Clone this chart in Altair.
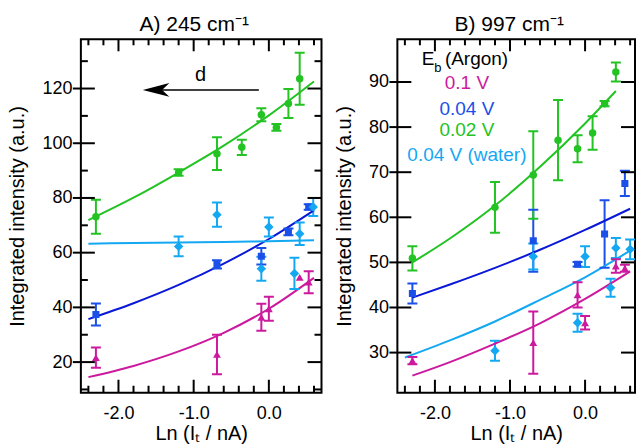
import altair as alt
import pandas as pd

FONT = "Liberation Sans"

# ---------------- data: panel A (245 cm-1) ----------------
A_mag_x = [-2.30, -0.69, -0.10, 0.00, 0.41, 0.53]
A_mag_y = [21.6, 22.8, 36.4, 39.5, 51.0, 49.2]
A_mag_e = [3.7, 7.2, 4.9, 4.4, 0.0, 4.0]

A_blue_x = [-2.30, -0.69, -0.10, 0.26, 0.53]
A_blue_y = [37.4, 55.7, 58.7, 67.6, 76.7]
A_blue_e = [4.0, 1.5, 3.0, 1.2, 1.0]

A_green_x = [-2.30, -1.20, -0.69, -0.36, -0.10, 0.10, 0.26, 0.41]
A_green_y = [73.1, 89.3, 96.2, 98.5, 110.4, 105.8, 114.5, 123.6]
A_green_e = [6.2, 1.2, 6.0, 2.8, 2.4, 1.2, 5.3, 9.5]

A_cyan_x = [-1.20, -0.69, -0.10, 0.00, 0.34, 0.41, 0.59]
A_cyan_y = [62.3, 73.9, 54.1, 69.4, 52.4, 66.9, 76.7]
A_cyan_e = [3.6, 4.4, 4.4, 3.5, 5.7, 4.1, 3.3]

A_fit_x = [-2.4, -1.8, -1.2, -0.6, 0.0, 0.6]
A_fit_mag = [14.5, 18.6, 23.9, 30.7, 39.5, 50.8]
A_fit_blue = [35.7, 41.5, 48.2, 56.0, 65.0, 75.5]
A_fit_green = [71.9, 80.1, 89.3, 99.1, 110.2, 122.6]
A_fit_cyan = [63.3, 63.5, 63.7, 63.9, 64.2, 64.5]

# ---------------- data: panel B (997 cm-1) ----------------
B_mag_x = [-2.30, -0.69, -0.10, 0.00, 0.41, 0.53]
B_mag_y = [28.2, 32.2, 42.8, 36.6, 49.2, 48.7]
B_mag_e = [0.8, 6.9, 2.8, 1.5, 1.5, 0.8]

B_blue_x = [-2.30, -0.69, -0.10, 0.26, 0.53]
B_blue_y = [43.1, 54.8, 49.6, 56.3, 67.5]
B_blue_e = [2.2, 6.9, 0.5, 7.5, 2.8]

B_green_x = [-2.30, -1.20, -0.69, -0.36, -0.10, 0.10, 0.26, 0.41]
B_green_y = [50.9, 62.2, 69.4, 77.1, 75.2, 78.7, 85.2, 92.2]
B_green_e = [2.7, 5.6, 9.7, 8.9, 3.0, 3.7, 0.6, 2.1]

B_cyan_x = [-1.20, -0.69, -0.10, 0.00, 0.34, 0.41, 0.60]
B_cyan_y = [30.4, 51.3, 36.6, 51.3, 44.4, 53.2, 52.9]
B_cyan_e = [2.2, 2.9, 2.0, 2.3, 2.0, 2.2, 2.2]

B_fit_mag_x = [-2.3, -1.8, -1.2, -0.6, 0.0, 0.6]
B_fit_mag = [24.9, 27.9, 32.0, 36.5, 41.9, 48.0]
B_fit_blue_x = [-2.3, -1.8, -1.2, -0.6, 0.0, 0.6]
B_fit_blue = [42.2, 45.1, 48.8, 52.8, 57.2, 61.9]
B_fit_green_x = [-2.3, -1.8, -1.2, -0.6, 0.0, 0.41]
B_fit_green = [50.0, 55.3, 62.6, 71.2, 80.8, 88.0]
B_fit_cyan_x = [-2.4, -1.8, -1.2, -0.6, 0.0, 0.6]
B_fit_cyan = [28.9, 32.7, 36.9, 41.7, 46.7, 52.6]

# tick values
X_MAJOR = [-2.0, -1.0, 0.0]
X_MINOR = [-2.4, -2.2, -1.8, -1.6, -1.4, -1.2, -0.8, -0.6, -0.4, -0.2, 0.2, 0.4, 0.6]
A_Y_MAJOR = [20, 40, 60, 80, 100, 120]
A_Y_MINOR = [10, 30, 50, 70, 90, 110, 130]
B_Y_MAJOR = [30, 40, 50, 60, 70, 80, 90]

SERIES = ["0.1 V", "0.04 V", "0.02 V", "0.04 V (water)"]

# ---------------- styles ----------------
PCOL = {"0.1 V": "#CC1A9E", "0.04 V": "#1A50E8", "0.02 V": "#22C322", "0.04 V (water)": "#14A8F2"}
LCOL = {"0.1 V": "#CC1A9E", "0.04 V": "#0A18D8", "0.02 V": "#22C322", "0.04 V (water)": "#14A8F2"}
SHAPE = {"0.1 V": "triangle-up", "0.04 V": "square", "0.02 V": "circle", "0.04 V (water)": "diamond"}
SIZE = {"0.1 V": 62, "0.04 V": 50, "0.02 V": 56, "0.04 V (water)": 90}
H = 354
# tick lengths in pixels
TICK_X_BOTTOM = (13, 7)   # major, minor
TICK_X_TOP = (12, 6)
TICK_Y_LEFT_MAJOR = (14, 8)  # inside, outside
TICK_Y_MINOR = 7
TICK_Y_RIGHT_MAJOR = 14


def points_df(groups):
    rows = []
    for name, xs, ys, es in groups:
        for x, y, e in zip(xs, ys, es):
            rows.append({"x": x, "y": y, "e": e, "s": name, "pc": PCOL[name],
                         "shape": SHAPE[name], "size": SIZE[name]})
    return pd.DataFrame(rows)


def fit_df(groups):
    rows = []
    for name, xs, ys in groups:
        for x, y in zip(xs, ys):
            rows.append({"x": x, "y": y, "s": name, "lc": LCOL[name]})
    return pd.DataFrame(rows)


AX = dict(labelFont=FONT, labelFontSize=18, labelColor="black",
          titleFont=FONT, titleFontSize=20, titleFontWeight="normal", titleColor="black",
          ticks=False, domain=False, grid=False)

XLAB = "datum.value < 0 ? '-' + format(-datum.value, '.1f') : format(datum.value, '.1f')"


def panel(pts, fits, xdom, ydom, ymaj, ymin, xmaj, xmin, title, width, extra):
    xs = alt.Scale(domain=xdom, nice=False, zero=False)
    ys = alt.Scale(domain=ydom, nice=False, zero=False)

    ax_x = alt.Axis(orient="bottom", values=xmaj, labelPadding=12, labelExpr=XLAB,
                    title="Ln (Iₜ / nA)", titlePadding=1, **AX)
    ax_y = alt.Axis(orient="left", values=ymaj, labelPadding=9,
                    title="Integrated intensity (a.u.)", titlePadding=14, **AX)

    def X(field):
        return alt.X(field, scale=xs, axis=ax_x)

    def Y(field):
        return alt.Y(field, scale=ys, axis=ax_y)

    ppx = width / (xdom[1] - xdom[0])
    ppy = H / (ydom[1] - ydom[0])
    x0, x1 = xdom
    y0, y1 = ydom

    # axis ticks drawn as tick marks centred on their span (tick values from the lists above)
    def xt(vals, a, length):
        df = pd.DataFrame({"v": vals, "a": [a] * len(vals), "c": ["black"] * len(vals)})
        return alt.Chart(df).mark_tick(orient="vertical", size=length, thickness=2, opacity=1).encode(
            x=X("v:Q"), y=Y("a:Q"), color=alt.Color("c:N", scale=None))

    def yt(vals, a, length):
        df = pd.DataFrame({"v": vals, "a": [a] * len(vals), "c": ["black"] * len(vals)})
        return alt.Chart(df).mark_tick(orient="horizontal", size=length, thickness=2, opacity=1).encode(
            y=Y("v:Q"), x=X("a:Q"), color=alt.Color("c:N", scale=None))

    lm_in, lm_out = TICK_Y_LEFT_MAJOR
    ticks = [
        xt(xmaj, y0 + TICK_X_BOTTOM[0] / 2 / ppy, TICK_X_BOTTOM[0]),
        xt(xmin, y0 + TICK_X_BOTTOM[1] / 2 / ppy, TICK_X_BOTTOM[1]),
        xt(xmaj, y1 - TICK_X_TOP[0] / 2 / ppy, TICK_X_TOP[0]),
        xt(xmin, y1 - TICK_X_TOP[1] / 2 / ppy, TICK_X_TOP[1]),
        yt(ymaj, x0 + (lm_in - lm_out) / 2 / ppx, lm_in + lm_out),
        yt(ymaj, x1 - TICK_Y_RIGHT_MAJOR / 2 / ppx, TICK_Y_RIGHT_MAJOR),
    ]
    if ymin:
        ticks += [yt(ymin, x0 + TICK_Y_MINOR / 2 / ppx, TICK_Y_MINOR),
                  yt(ymin, x1 - TICK_Y_MINOR / 2 / ppx, TICK_Y_MINOR)]

    base = alt.Chart(pts).transform_filter("datum.e > 0").transform_calculate(
        lo="datum.y - datum.e", hi="datum.y + datum.e")

    lines = alt.Chart(fits).mark_line(strokeWidth=2, interpolate="monotone", clip=True).encode(
        x=X("x:Q"), y=Y("y:Q"), color=alt.Color("lc:N", scale=None), detail="s:N")
    bars = base.mark_rule(strokeWidth=2, clip=True).encode(
        x=X("x:Q"), y=Y("lo:Q"), y2="hi:Q", color=alt.Color("pc:N", scale=None))
    caps_lo = base.mark_tick(orient="horizontal", size=10, thickness=2, opacity=1, clip=True).encode(
        x=X("x:Q"), y=Y("lo:Q"), color=alt.Color("pc:N", scale=None))
    caps_hi = base.mark_tick(orient="horizontal", size=10, thickness=2, opacity=1, clip=True).encode(
        x=X("x:Q"), y=Y("hi:Q"), color=alt.Color("pc:N", scale=None))
    pts_layer = alt.Chart(pts).mark_point(filled=True, opacity=1, clip=True).encode(
        x=X("x:Q"), y=Y("y:Q"),
        color=alt.Color("pc:N", scale=None),
        shape=alt.Shape("shape:N", scale=None),
        size=alt.Size("size:Q", scale=None),
    )
    layers = [bars, lines, caps_lo, caps_hi, pts_layer] + ticks + [e(X, Y) for e in extra]
    return alt.layer(*layers).properties(
        width=width, height=H,
        title=alt.TitleParams(text=title, font=FONT, fontSize=21, fontWeight="normal",
                              color="black", offset=4, dx=-7),
    )


# annotations
ARROW_X = [-1.52, -0.133]
ARROW_Y = [119.5]
HEAD_X = [-1.50]
D_X, D_Y = [-0.91], [125.0]

LEG_TEXT = ["0.1 V", "0.04 V", "0.02 V", "0.04 V (water)"]
LEG_Y = [89.8, 84.1, 79.3, 73.8]
LEG_X = -1.574


def arrow_layer(X, Y):
    df = pd.DataFrame({"x1": [ARROW_X[0]], "x2": [ARROW_X[1]], "y": ARROW_Y})
    return alt.Chart(df).mark_rule(color="black", strokeWidth=1.5).encode(
        x=X("x1:Q"), x2="x2:Q", y=Y("y:Q"))


def head_layer(X, Y):
    df = pd.DataFrame({"x": HEAD_X, "y": ARROW_Y})
    return alt.Chart(df).mark_point(shape="M -1 0 L 1 -0.52 L 0.45 0 L 1 0.52 Z", size=711,
                                    filled=True, opacity=1, color="black").encode(
        x=X("x:Q"), y=Y("y:Q"))


def d_layer(X, Y):
    df = pd.DataFrame({"x": D_X, "y": D_Y, "t": ["d"]})
    return alt.Chart(df).mark_text(font=FONT, fontSize=20, color="black", baseline="middle").encode(
        x=X("x:Q"), y=Y("y:Q"), text="t:N")


def legend_layer(X, Y):
    df = pd.DataFrame({"x": [LEG_X] * 4, "y": LEG_Y, "t": LEG_TEXT, "c": [PCOL[s] for s in LEG_TEXT]})
    return alt.Chart(df).mark_text(font=FONT, fontSize=19, baseline="middle", align="center").encode(
        x=X("x:Q"), y=Y("y:Q"), text="t:N", color=alt.Color("c:N", scale=None))


def eb_layer(X, Y):
    df = pd.DataFrame({"x": [-2.177, -1.867], "y": [95.2, 95.2], "t": ["E", "(Argon)"]})
    return alt.Chart(df).mark_text(font=FONT, fontSize=19, baseline="middle", align="left",
                                   color="black").encode(
        x=X("x:Q"), y=Y("y:Q"), text="t:N")


def eb_sub_layer(X, Y):
    df = pd.DataFrame({"x": [-2.010], "y": [93.2], "t": ["b"]})
    return alt.Chart(df).mark_text(font=FONT, fontSize=13, baseline="middle", align="left",
                                   color="black").encode(
        x=X("x:Q"), y=Y("y:Q"), text="t:N")


A_pts = points_df([
    ("0.1 V", A_mag_x, A_mag_y, A_mag_e),
    ("0.04 V", A_blue_x, A_blue_y, A_blue_e),
    ("0.02 V", A_green_x, A_green_y, A_green_e),
    ("0.04 V (water)", A_cyan_x, A_cyan_y, A_cyan_e),
])
A_fits = fit_df([
    ("0.1 V", A_fit_x, A_fit_mag),
    ("0.04 V", A_fit_x, A_fit_blue),
    ("0.02 V", A_fit_x, A_fit_green),
    ("0.04 V (water)", A_fit_x, A_fit_cyan),
])
B_pts = points_df([
    ("0.1 V", B_mag_x, B_mag_y, B_mag_e),
    ("0.04 V", B_blue_x, B_blue_y, B_blue_e),
    ("0.02 V", B_green_x, B_green_y, B_green_e),
    ("0.04 V (water)", B_cyan_x, B_cyan_y, B_cyan_e),
])
B_fits = fit_df([
    ("0.1 V", B_fit_mag_x, B_fit_mag),
    ("0.04 V", B_fit_blue_x, B_fit_blue),
    ("0.02 V", B_fit_green_x, B_fit_green),
    ("0.04 V (water)", B_fit_cyan_x, B_fit_cyan),
])

chartA = panel(A_pts, A_fits, [-2.5, 0.7], [8.8, 138.0], A_Y_MAJOR, A_Y_MINOR, X_MAJOR, X_MINOR,
               "A) 245 cm⁻¹", 241, [arrow_layer, head_layer, d_layer])
chartB = panel(B_pts, B_fits, [-2.5, 0.665], [21.1, 99.47], B_Y_MAJOR, [], X_MAJOR, X_MINOR,
               "B) 997 cm⁻¹", 238, [legend_layer, eb_layer, eb_sub_layer])

chart = alt.hconcat(chartA, chartB, spacing=10).properties(
    padding={"left": 6, "top": 12, "right": 0, "bottom": 0},
    background="white",
).configure_view(stroke="black", strokeWidth=2)

chart.save("out.html", embed_options={"renderer": "svg", "actions": False})
